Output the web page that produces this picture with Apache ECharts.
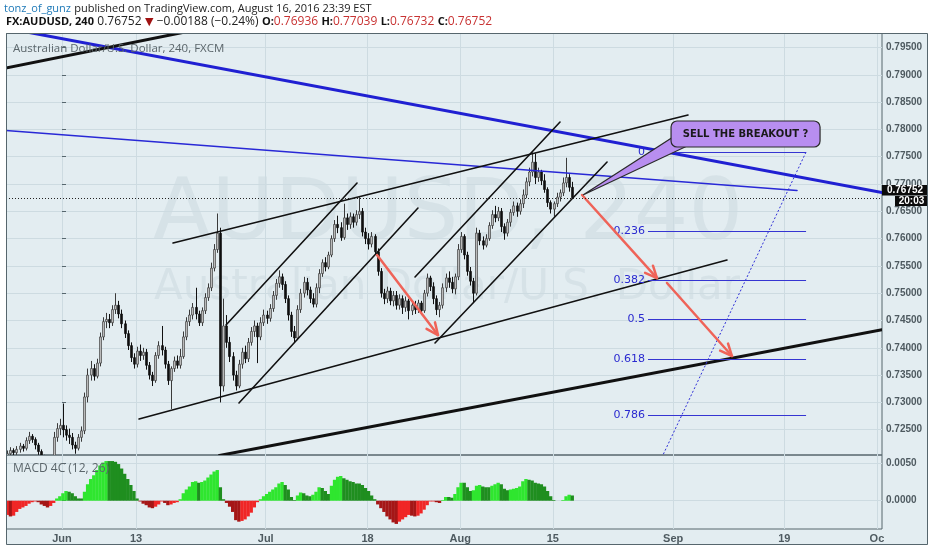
<!DOCTYPE html>
<html><head><meta charset="utf-8">
<script src="https://cdn.jsdelivr.net/npm/echarts@6/dist/echarts.min.js"></script>
<style>html,body{margin:0;padding:0;background:#fff;}#c{width:932px;height:550px;}</style>
</head><body><div id="c"></div>
<script>
// ---------------- DATA ----------------
// trading-day index: Jun 1 2016 = 0 (weekends skipped); first bar day = May 24
const firstDay = -6;
const barsPerDay = 3;
// 8h bars, [open, close, low, high] in units of 0.0001
const ohlc = [
[7198,7206,7192,7212],[7206,7212,7200,7218],[7212,7208,7202,7216],
[7208,7214,7204,7220],[7214,7220,7208,7226],[7220,7216,7210,7224],
[7216,7230,7212,7236],[7230,7238,7224,7246],[7238,7232,7226,7242],
[7232,7222,7214,7236],[7222,7210,7204,7226],[7210,7200,7194,7214],
[7200,7192,7186,7204],[7192,7188,7180,7198],[7188,7194,7182,7200],
[7194,7236,7190,7246],[7236,7252,7228,7262],[7252,7258,7240,7270],
[7258,7250,7236,7298],[7250,7240,7230,7258],[7240,7236,7224,7252],
[7236,7222,7214,7244],[7222,7216,7206,7228],[7216,7236,7212,7242],
[7236,7248,7228,7256],[7248,7310,7242,7318],[7310,7350,7300,7362],
[7350,7362,7340,7376],[7362,7348,7340,7370],[7348,7372,7344,7380],
[7372,7420,7366,7428],[7420,7448,7414,7456],[7448,7452,7436,7464],
[7452,7446,7436,7462],[7446,7470,7440,7478],[7470,7478,7462,7500],
[7478,7462,7454,7486],[7462,7444,7436,7470],[7444,7426,7418,7450],
[7426,7404,7396,7432],[7404,7382,7374,7410],[7382,7370,7362,7390],
[7370,7394,7364,7402],[7394,7386,7376,7406],[7386,7392,7378,7400],
[7392,7368,7360,7398],[7368,7350,7342,7374],[7350,7340,7330,7356],
[7340,7386,7336,7392],[7386,7404,7380,7412],[7404,7396,7386,7440],
[7396,7370,7362,7402],[7370,7340,7332,7376],[7340,7362,7288,7366],
[7362,7376,7356,7384],[7376,7368,7362,7386],[7368,7384,7362,7398],
[7384,7420,7380,7430],[7420,7448,7414,7456],[7448,7460,7440,7470],
[7460,7474,7452,7482],[7474,7462,7452,7510],[7462,7446,7440,7468],
[7446,7468,7440,7474],[7468,7492,7462,7500],[7492,7510,7486,7518],
[7510,7546,7504,7556],[7546,7580,7540,7590],[7580,7610,7574,7646],
[7610,7330,7300,7620],[7330,7440,7320,7490],[7440,7410,7400,7460],
[7410,7384,7374,7420],[7384,7350,7340,7392],[7350,7330,7322,7358],
[7330,7370,7326,7378],[7370,7392,7362,7400],[7392,7380,7372,7404],
[7380,7410,7374,7418],[7410,7430,7404,7438],[7430,7440,7420,7450],
[7440,7420,7372,7446],[7420,7446,7414,7456],[7446,7460,7440,7470],
[7460,7454,7444,7468],[7454,7472,7448,7480],[7472,7496,7466,7504],
[7496,7518,7488,7526],[7518,7530,7510,7542],[7530,7516,7506,7536],
[7516,7490,7482,7522],[7490,7460,7450,7496],[7460,7430,7420,7466],
[7430,7418,7410,7440],[7418,7470,7414,7478],[7470,7500,7464,7508],
[7500,7520,7492,7530],[7520,7506,7496,7528],[7506,7490,7482,7512],
[7490,7480,7474,7500],[7480,7510,7474,7518],[7510,7536,7500,7544],
[7536,7556,7530,7562],[7556,7548,7540,7566],[7548,7570,7544,7576],
[7570,7600,7566,7606],[7600,7626,7594,7634],[7626,7620,7610,7642],
[7620,7602,7596,7630],[7602,7638,7598,7664],[7638,7626,7616,7646],
[7626,7640,7618,7648],[7640,7630,7620,7646],[7630,7644,7624,7652],
[7644,7650,7636,7676],[7650,7612,7604,7656],[7612,7600,7590,7620],
[7600,7590,7580,7610],[7590,7604,7584,7612],[7604,7576,7570,7608],
[7576,7540,7532,7582],[7540,7500,7492,7546],[7500,7490,7480,7508],
[7490,7504,7482,7512],[7504,7486,7478,7510],[7486,7496,7476,7504],
[7496,7478,7470,7504],[7478,7490,7470,7498],[7490,7474,7462,7496],
[7474,7486,7466,7494],[7486,7468,7452,7490],[7468,7478,7460,7484],
[7478,7470,7462,7486],[7470,7482,7464,7488],[7482,7468,7460,7486],
[7468,7500,7464,7506],[7500,7528,7494,7536],[7528,7512,7504,7532],
[7512,7490,7480,7520],[7490,7470,7460,7496],[7470,7478,7456,7484],
[7478,7510,7472,7518],[7510,7528,7502,7536],[7528,7520,7510,7540],
[7520,7508,7500,7530],[7508,7530,7498,7536],[7530,7580,7524,7590],
[7580,7604,7574,7612],[7604,7570,7562,7608],[7570,7540,7532,7576],
[7540,7522,7514,7548],[7522,7500,7482,7528],[7500,7610,7496,7620],
[7610,7596,7588,7616],[7596,7588,7580,7604],[7588,7600,7584,7608],
[7600,7624,7596,7630],[7624,7644,7618,7652],[7644,7638,7630,7660],
[7638,7650,7632,7658],[7650,7622,7612,7656],[7622,7610,7598,7628],
[7610,7630,7604,7636],[7630,7648,7622,7654],[7648,7660,7642,7668],
[7660,7650,7640,7666],[7650,7664,7644,7672],[7664,7680,7656,7690],
[7680,7704,7674,7712],[7704,7722,7696,7730],[7722,7740,7714,7758],
[7740,7712,7700,7756],[7712,7722,7704,7730],[7722,7706,7698,7726],
[7706,7690,7684,7718],[7690,7666,7658,7694],[7666,7654,7646,7670],
[7654,7664,7640,7668],[7664,7676,7658,7684],[7676,7684,7668,7690],
[7684,7702,7678,7712],[7702,7712,7694,7748],[7712,7694,7686,7718],
[7694,7675,7673,7704]
];
// MACD 4C (12,26) value per bar, units of 0.0001
const macd = [
-19,-21,-20,-15,-11,-9,-7,-4,-2,-1,
-2,-5,-7,-9,-7,-3,3,6,10,13,
12,10,6,3,3,12,22,29,34,41,
47,51,53,53,53,52,49,43,36,29,
21,13,3,-1,-4,-6,-9,-10,-8,-5,
-1,-3,-6,-5,-3,-2,2,10,15,19,
25,26,24,25,27,31,35,39,41,18,
2,-3,-8,-15,-26,-28,-27,-25,-21,-16,
-9,-2,2,6,9,12,15,18,23,25,
21,15,5,1,7,11,10,7,6,8,
12,18,17,13,9,20,28,32,33,30,
28,26,25,23,23,21,17,13,7,2,
-5,-10,-15,-21,-25,-29,-31,-28,-25,-22,
-19,-20,-21,-20,-17,-12,-6,-1,-1,-2,
-3,1,5,5,4,9,18,24,24,18,
13,14,20,21,19,18,18,20,22,24,
22,16,14,15,16,17,19,26,29,28,
27,24,23,22,19,13,6,1,0,0,
1,6,8,7
];
const dayTicks = [0, 8, 22, 33, 43, 53, 66, 78, 88];
const dayTickLabels = ['Jun', '13', 'Jul', '18', 'Aug', '15', 'Sep', '19', 'Oc'];
const priceTicks = [0.725,0.73,0.735,0.74,0.745,0.75,0.755,0.76,0.765,0.77,0.775,0.78,0.785,0.79,0.795];
const macdTicks = [0, 0.005];
const lastPrice = 0.76752;
const countdown = '20:03';

// drawings: [dayIndex1, price1, dayIndex2, price2]
const thickBlackLines = [
  [-7, 0.79092, 13.82, 0.79802],
  [17.0, 0.72028, 88.55, 0.74333]
];
const thinBlackLines = [
  [11.99, 0.75919, 67.60, 0.78264],
  [8.32, 0.72696, 71.81, 0.75608],
  [17.71, 0.74418, 31.86, 0.77018],
  [19.11, 0.72989, 38.44, 0.76560],
  [38.12, 0.75297, 53.78, 0.78136],
  [40.28, 0.74088, 58.86, 0.77403]
];
const thickBlueLines = [[-7, 0.79885, 88.55, 0.76846]];
const thinBlueLines = [[-7, 0.77993, 79.37, 0.76881]];
const arrowLines = [
  [34.02, 0.75700, 40.60, 0.74234],
  [56.16, 0.76799, 64.25, 0.75278],
  [65.33, 0.75187, 72.35, 0.73850]
];
const fibLevels = [0, 0.236, 0.382, 0.5, 0.618, 0.786];
const fibStart = [63.28, 0.71456]; // level 1
const fibEnd = [80.35, 0.77586];   // level 0
const calloutText = 'SELL THE BREAKOUT ?';
const calloutTip = [56.26, 0.76799];
const calloutBox = [65.77, 0.78154, 81.86, 0.77678];

// ---------------- CHART ----------------
const P = 10000;
const xMin = -6.048, xMax = 88.55;
const pMin = 0.72037, pMax = 0.79766;
const mMin = -0.00378, mMax = 0.00611;
const gridColor = '#cddbe1';
const labelColor = '#4e5a60';
const frameColor = '#56666d';

const barX = j => firstDay + Math.floor(j / barsPerDay) + (j % barsPerDay + 0.25) / barsPerDay;
const candleData = ohlc.map((b, j) => [barX(j), b[0] / P, b[1] / P, b[2] / P, b[3] / P]);
const macdData = macd.map((v, j) => [barX(j), v / P, (j > 0 ? macd[j - 1] : v) / P]);

const chart = echarts.init(document.getElementById('c'), null, {renderer: 'canvas', width: 932, height: 550});

function segSeries(lines, color, width, dash) {
  return {
    type: 'custom', xAxisIndex: 0, yAxisIndex: 0, clip: true, silent: true, z: 5,
    data: lines,
    renderItem(params, api) {
      const a = api.coord([api.value(0), api.value(1)]);
      const b = api.coord([api.value(2), api.value(3)]);
      return {type: 'line', shape: {x1: a[0], y1: a[1], x2: b[0], y2: b[1]},
        style: {stroke: color, lineWidth: width, lineDash: dash || null, lineCap: 'round'}};
    }
  };
}

const axisLabelFont = {color: labelColor, fontSize: 10, fontWeight: 'bold', fontFamily: 'Liberation Sans'};

const option = {
  animation: false,
  backgroundColor: '#e3edf1',
  grid: [
    {left: 6, top: 33, width: 876, height: 422, show: true, backgroundColor: 'transparent', borderColor: frameColor, borderWidth: 1},
    {left: 6, top: 455, width: 876, height: 74, show: true, backgroundColor: 'transparent', borderColor: frameColor, borderWidth: 1}
  ],
  xAxis: [
    {type: 'value', gridIndex: 0, min: xMin, max: xMax,
      axisLine: {show: false}, axisTick: {show: false, customValues: dayTicks},
      axisLabel: {show: false, customValues: dayTicks},
      splitLine: {show: true, lineStyle: {color: gridColor, width: 1}}},
    {type: 'value', gridIndex: 1, min: xMin, max: xMax,
      axisLine: {show: false}, axisTick: {show: false, customValues: dayTicks},
      axisLabel: Object.assign({show: true, customValues: dayTicks, margin: 4, fontSize: 11,
        formatter: v => dayTickLabels[dayTicks.indexOf(v)] || ''}, {color: labelColor, fontWeight: 'bold', fontFamily: 'Liberation Sans'}),
      splitLine: {show: true, lineStyle: {color: gridColor, width: 1}}}
  ],
  yAxis: [
    {type: 'value', gridIndex: 0, position: 'right', min: pMin, max: pMax,
      axisLine: {show: false},
      axisTick: {show: true, length: 4, customValues: priceTicks, lineStyle: {color: frameColor}},
      axisLabel: Object.assign({customValues: priceTicks, margin: 4, formatter: v => v.toFixed(5)}, axisLabelFont),
      splitLine: {show: true, lineStyle: {color: gridColor, width: 1}}},
    {type: 'value', gridIndex: 1, position: 'right', min: mMin, max: mMax,
      axisLine: {show: false},
      axisTick: {show: true, length: 4, customValues: macdTicks, lineStyle: {color: frameColor}},
      axisLabel: Object.assign({customValues: macdTicks, margin: 4, formatter: v => v.toFixed(4)}, axisLabelFont),
      splitLine: {show: true, lineStyle: {color: gridColor, width: 1}}}
  ],
  graphic: [
    {id: 'wm1', type: 'text', x: 448, y: 217, z: -1, silent: true,
      style: {text: 'AUDUSD, 240', font: '86px "DejaVu Sans"', fill: 'rgba(120,150,165,0.12)', align: 'center', verticalAlign: 'middle'}},
    {id: 'wm2', type: 'text', x: 447, y: 288, z: -1, silent: true,
      style: {text: 'Australian Dollar/U.S. Dollar', font: '42px "DejaVu Sans"', fill: 'rgba(120,150,165,0.12)', align: 'center', verticalAlign: 'middle'}},
    {id: 'wTop', type: 'rect', shape: {x: 0, y: 0, width: 932, height: 33}, style: {fill: '#ffffff'}, z: 50, silent: true},
    {id: 'wLeft', type: 'rect', shape: {x: 0, y: 33, width: 6, height: 517}, style: {fill: '#ffffff'}, z: 50, silent: true},
    {id: 'wBot', type: 'rect', shape: {x: 0, y: 545, width: 932, height: 5}, style: {fill: '#ffffff'}, z: 50, silent: true},
    {id: 'wRight', type: 'rect', shape: {x: 928, y: 33, width: 4, height: 517}, style: {fill: '#ffffff'}, z: 50, silent: true},
    {id: 'frame', type: 'rect', shape: {x: 6.5, y: 33.5, width: 921, height: 511}, style: {fill: null, stroke: frameColor, lineWidth: 1}, z: 51, silent: true},
    {id: 'h1', type: 'text', x: 4, y: 9, z: 52, silent: true,
      style: {text: '{u|tonz_of_gunz} {t|published on TradingView.com, August 16, 2016 23:39 EST}',
        verticalAlign: 'middle',
        rich: {u: {fill: '#1f7ab8', font: '11px "Open Sans"'}, t: {fill: '#222', font: '11px "Open Sans"'}}}},
    {id: 'h2', type: 'text', x: 6, y: 22, z: 52, silent: true,
      style: {text: '{b|FX:AUDUSD, 240} {n|0.76752}{r| ▼}{n| −0.00188 (−0.24%)} {b|O:}{v|0.76936} {b|H:}{v|0.77039} {b|L:}{v|0.76732} {b|C:}{v|0.76752}',
        verticalAlign: 'middle',
        rich: {
          b: {fill: '#111', font: 'bold 11px "Open Sans"'},
          n: {fill: '#222', font: '12px "Open Sans"'},
          r: {fill: '#a01212', font: '11px "DejaVu Sans"'},
          v: {fill: '#c83232', font: '12px "Open Sans"'}
        }}},
    {id: 'pt', type: 'text', x: 13, y: 49, z: 52, silent: true,
      style: {text: 'Australian Dollar/U.S. Dollar, 240, FXCM', font: '11.5px "Open Sans"', fill: '#5b666b', verticalAlign: 'middle'}},
    {id: 'mt', type: 'text', x: 13, y: 469, z: 52, silent: true,
      style: {text: 'MACD 4C (12, 26)', font: '12px "Open Sans"', fill: '#5b666b', verticalAlign: 'middle'}}
  ],
  series: [
    { // candles
      type: 'custom', xAxisIndex: 0, yAxisIndex: 0, clip: true, silent: true, z: 3,
      data: candleData,
      renderItem(params, api) {
        const x = api.value(0), o = api.value(1), c = api.value(2), l = api.value(3), h = api.value(4);
        const po = api.coord([x, o]), pc = api.coord([x, c]), pl = api.coord([x, l]), ph = api.coord([x, h]);
        const bw = Math.max(1.6, api.size([1 / barsPerDay, 0])[0] * 0.62);
        const up = c >= o;
        const cx = Math.round(po[0]) + 0.5;
        const top = Math.min(po[1], pc[1]);
        const hg = Math.max(1, Math.abs(po[1] - pc[1]));
        return {type: 'group', children: [
          {type: 'line', shape: {x1: cx, y1: ph[1], x2: cx, y2: pl[1]}, style: {stroke: up ? '#3a3a3a' : '#111', lineWidth: 1}},
          {type: 'rect', shape: {x: cx - bw / 2, y: top, width: bw, height: hg},
            style: {fill: up ? '#c4c4c4' : '#111', stroke: up ? '#3a3a3a' : '#111', lineWidth: 0.7}}
        ]};
      }
    },
    { // MACD 4C histogram
      type: 'custom', xAxisIndex: 1, yAxisIndex: 1, clip: true, silent: true, z: 3,
      data: macdData,
      renderItem(params, api) {
        const x = api.value(0), v = api.value(1), pv = api.value(2);
        const p0 = api.coord([x, 0]), p1 = api.coord([x, v]);
        const w = api.size([1 / barsPerDay, 0])[0];
        let col;
        if (v >= 0) col = v > pv ? '#2fe62f' : '#1f8e1f';
        else col = v < pv ? '#a51616' : '#f02626';
        return {type: 'rect', shape: {x: p0[0] - w / 2, y: Math.min(p0[1], p1[1]), width: w + 0.3, height: Math.abs(p1[1] - p0[1])},
          style: {fill: col}};
      }
    },
    segSeries(thinBlueLines, '#2828d6', 1.6),
    segSeries(thickBlueLines, '#2020d2', 3),
    segSeries(thinBlackLines, '#111', 1.6),
    segSeries(thickBlackLines, '#111', 3),
    { // fib diagonal
      type: 'custom', xAxisIndex: 0, yAxisIndex: 0, clip: true, silent: true, z: 5,
      data: [[fibStart[0], fibStart[1], fibEnd[0], fibEnd[1]]],
      renderItem(params, api) {
        const a = api.coord([api.value(0), api.value(1)]);
        const b = api.coord([api.value(2), api.value(3)]);
        return {type: 'line', shape: {x1: a[0], y1: a[1], x2: b[0], y2: b[1]}, style: {stroke: '#3030d8', lineWidth: 1, lineDash: [2, 2]}};
      }
    },
    { // fib levels
      type: 'custom', xAxisIndex: 0, yAxisIndex: 0, clip: false, silent: true, z: 5,
      data: fibLevels.map(l => [l]),
      renderItem(params, api) {
        const lvl = api.value(0);
        const price = fibEnd[1] - lvl * (fibEnd[1] - fibStart[1]);
        const a = api.coord([fibStart[0], price]);
        const b = api.coord([fibEnd[0], price]);
        return {type: 'group', children: [
          {type: 'line', shape: {x1: a[0], y1: Math.round(a[1]) + 0.5, x2: b[0], y2: Math.round(a[1]) + 0.5}, style: {stroke: '#3535d2', lineWidth: 1}},
          {type: 'text', x: a[0] - 3, y: a[1], style: {text: String(lvl), font: '11px "DejaVu Sans"', fill: '#2a2ad0', align: 'right', verticalAlign: 'middle'}}
        ]};
      }
    },
    { // red arrows
      type: 'custom', xAxisIndex: 0, yAxisIndex: 0, clip: true, silent: true, z: 6,
      data: arrowLines,
      renderItem(params, api) {
        const a = api.coord([api.value(0), api.value(1)]);
        const b = api.coord([api.value(2), api.value(3)]);
        const ang = Math.atan2(b[1] - a[1], b[0] - a[0]);
        const L = 13, s = 0.42;
        const p1 = [b[0] - L * Math.cos(ang - s), b[1] - L * Math.sin(ang - s)];
        const p2 = [b[0] - L * Math.cos(ang + s), b[1] - L * Math.sin(ang + s)];
        const st = {stroke: '#ef6358', lineWidth: 2.5, lineCap: 'round', lineJoin: 'round', fill: null};
        return {type: 'group', children: [
          {type: 'line', shape: {x1: a[0], y1: a[1], x2: b[0], y2: b[1]}, style: st},
          {type: 'polyline', shape: {points: [p1, b, p2]}, style: st}
        ]};
      }
    },
    { // callout
      type: 'custom', xAxisIndex: 0, yAxisIndex: 0, clip: false, silent: true, z: 7,
      data: [[calloutTip[0], calloutTip[1], calloutBox[0], calloutBox[1], calloutBox[2], calloutBox[3]]],
      renderItem(params, api) {
        const t = api.coord([api.value(0), api.value(1)]);
        const b1 = api.coord([api.value(2), api.value(3)]);
        const b2 = api.coord([api.value(4), api.value(5)]);
        const bx = b1[0], by = b1[1], bw = b2[0] - b1[0], bh = b2[1] - b1[1];
        const fill = '#b88ef0', stroke = '#2a2a2a';
        const base1 = [bx + 0.5, by + bh - 9], base2 = [bx + 14, by + bh];
        return {type: 'group', children: [
          {type: 'polygon', shape: {points: [t, base1, base2]}, style: {fill: fill, stroke: stroke, lineWidth: 1.2}},
          {type: 'rect', shape: {x: bx, y: by, width: bw, height: bh, r: 6}, style: {fill: fill, stroke: stroke, lineWidth: 1.2}},
          {type: 'polygon', shape: {points: [[bx + 1.5, by + bh - 8.5], [bx + 12.5, by + bh - 0.8], [bx + 6, by + bh - 9]]}, style: {fill: fill}},
          {type: 'text', x: bx + bw / 2, y: by + bh / 2, style: {text: calloutText, font: 'bold 10px "DejaVu Sans"', fill: '#1a1a1a', align: 'center', verticalAlign: 'middle'}}
        ]};
      }
    },
    { // last price line + labels
      type: 'custom', xAxisIndex: 0, yAxisIndex: 0, clip: false, silent: true, z: 8,
      data: [[lastPrice]],
      renderItem(params, api) {
        const cs = params.coordSys;
        const py = Math.round(api.coord([0, api.value(0)])[1]) + 0.5;
        const xr = cs.x + cs.width;
        return {type: 'group', children: [
          {type: 'line', shape: {x1: cs.x, y1: py, x2: xr, y2: py}, style: {stroke: '#222', lineWidth: 1, lineDash: [1, 2]}},
          {type: 'rect', shape: {x: xr, y: py - 13.5, width: 46, height: 10.5}, style: {fill: '#0b0b0b'}},
          {type: 'text', x: xr + 23, y: py - 8, style: {text: lastPrice.toFixed(5), font: 'bold 10px "Liberation Sans"', fill: '#fff', align: 'center', verticalAlign: 'middle'}},
          {type: 'rect', shape: {x: xr + 13, y: py - 2.5, width: 33, height: 10}, style: {fill: '#0b0b0b'}},
          {type: 'text', x: xr + 29.5, y: py + 2.5, style: {text: countdown, font: 'bold 10px "Liberation Sans"', fill: '#fff', align: 'center', verticalAlign: 'middle'}}
        ]};
      }
    }
  ]
};
chart.setOption(option);
</script>
</body></html>
